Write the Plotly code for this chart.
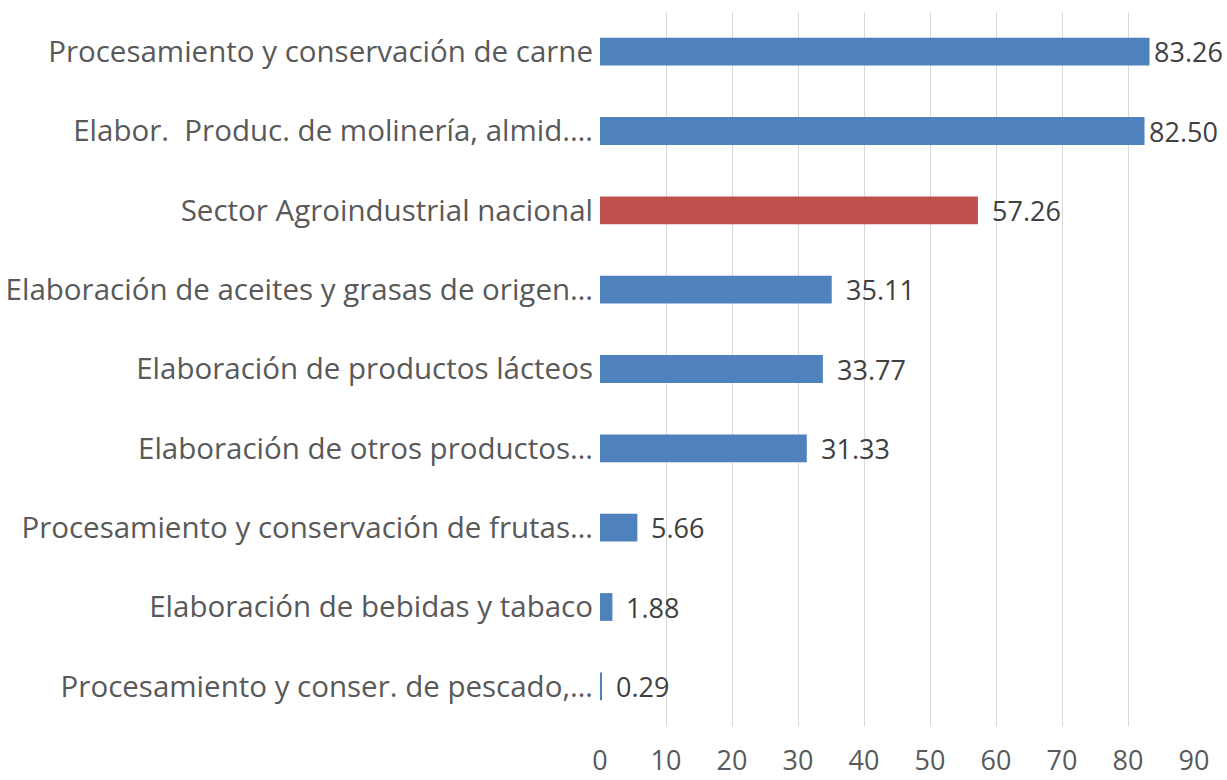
import plotly.graph_objects as go

# Sector categories (top to bottom) and their values
categories = [
    "Procesamiento y conservación de carne",
    "Elabor.\u00a0 Produc. de molinería, almid.…",
    "Sector Agroindustrial nacional",
    "Elaboración de aceites y grasas de origen…",
    "Elaboración de productos lácteos",
    "Elaboración de otros productos…",
    "Procesamiento y conservación de frutas…",
    "Elaboración de bebidas y tabaco",
    "Procesamiento y conser. de pescado,…",
]
values = [83.26, 82.50, 57.26, 35.11, 33.77, 31.33, 5.66, 1.88, 0.29]
highlight = "Sector Agroindustrial nacional"
x_ticks = [0, 10, 20, 30, 40, 50, 60, 70, 80, 90]

BLUE = "#4F81BD"
RED = "#C0504D"
colors = [RED if c == highlight else BLUE for c in categories]

FONT = "Open Sans"

fig = go.Figure(
    go.Bar(
        x=values,
        y=categories,
        orientation="h",
        marker=dict(color=colors, line=dict(width=0)),
        width=0.35,
        hoverinfo="skip",
    )
)

# value labels just past each bar end; the two longest bars keep theirs tight
for cat, v in zip(categories, values):
    fig.add_annotation(
        x=v,
        y=cat,
        text=f"{v:.2f}",
        showarrow=False,
        xanchor="left",
        xshift=2 if v > 80 else 12,
        font=dict(family=FONT, size=27, color="#404040"),
    )

fig.update_layout(
    width=1227,
    height=780,
    margin=dict(l=600, r=33, t=12, b=54),
    paper_bgcolor="white",
    plot_bgcolor="white",
    showlegend=False,
    font=dict(family=FONT, color="#595959"),
)

fig.update_xaxes(
    range=[0, 90],
    tickvals=x_ticks,
    ticktext=[str(t) for t in x_ticks],
    showgrid=True,
    gridcolor="#D9D9D9",
    gridwidth=1,
    zeroline=False,
    showline=False,
    ticks="",
    tickfont=dict(family=FONT, size=27, color="#595959"),
    ticklabelstandoff=16,
    automargin=False,
)

fig.update_yaxes(
    autorange="reversed",
    showgrid=False,
    zeroline=False,
    showline=False,
    ticks="",
    tickfont=dict(family=FONT, size=29.5, color="#595959"),
    ticklabelstandoff=6,
    automargin=False,
)

fig.write_html("out.html")
